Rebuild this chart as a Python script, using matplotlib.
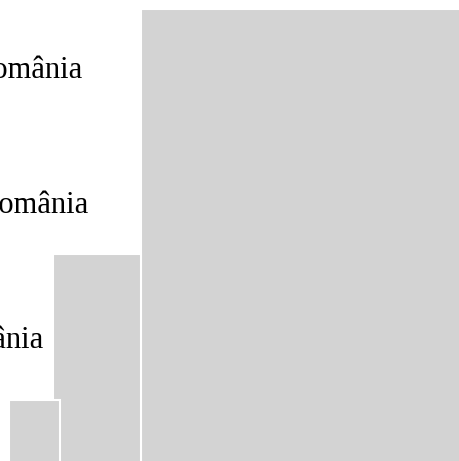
import matplotlib
matplotlib.use('Agg')
import matplotlib.pyplot as plt

# Rectangles (pixel units, y grows downward)
labels = ['România', 'România', 'România']
label_x = [82.5, 88.5, 43.5]
label_y = [78.5, 213, 347.5]

box_left = [141, 53, 9]
box_width = [340, 88, 51]
box_top = [9, 254, 400]
box_bottom = 490

fig = plt.figure(figsize=(4.6, 4.61), dpi=100)
ax = fig.add_axes([0, 0, 1, 1])

heights = [box_bottom - t for t in box_top]
ax.bar(box_left, heights, width=box_width, bottom=box_top, align='edge',
       color='#d3d3d3', edgecolor='white', linewidth=1.5)

for txt, x, y in zip(labels, label_x, label_y):
    ax.text(x, y, txt, ha='right', va='baseline', fontsize=22,
            family='Liberation Serif', color='black')

ax.set_xlim(0, 460)
ax.set_ylim(461, 0)
ax.axis('off')

fig.savefig('out.png', dpi=100)
